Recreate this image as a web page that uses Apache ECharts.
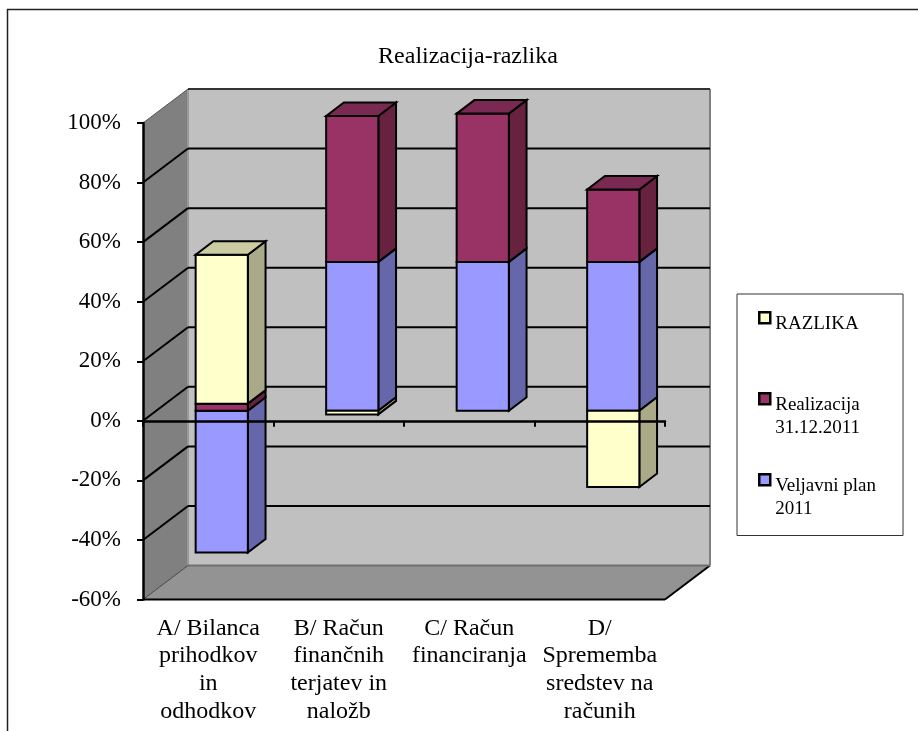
<!DOCTYPE html>
<html>
<head>
<meta charset="utf-8">
<style>
  html, body { margin: 0; padding: 0; background: #fff; }
  #chart { width: 918px; height: 731px; }
</style>
<script src="https://cdn.jsdelivr.net/npm/echarts@6/dist/echarts.min.js"></script>
</head>
<body>
<div id="chart"></div>
<script>
const categories = ['A/ Bilanca\nprihodkov\nin\nodhodkov', 'B/ Račun\nfinančnih\nterjatev in\nnaložb', 'C/ Račun\nfinanciranja', 'D/\nSprememba\nsredstev na\nračunih'];
const planValues = [-47.6, 50, 50, 50];
const realizacijaValues = [2.4, 49, 49.8, 24.3];
const razlikaValues = [50, -1.2, 0, -25.6];
const yTicks = [-60, -40, -20, 0, 20, 40, 60, 80, 100];

const PLAN = 'Veljavni plan\n2011';
const REAL = 'Realizacija\n31.12.2011';
const RAZ = 'RAZLIKA';
const FONT = '"Liberation Serif", "Times New Roman", serif';

// globina 3D prikaza v pikslih
const WALL_X = 45, WALL_Y = 34;
const BAR_X = 13.5, BAR_Y = 10;
const SIDE_X = 17.7, SIDE_Y = 13.5;

const colors = {
  plan: { front: '#9999FF', side: '#6666AA', top: '#7A7ACC' },
  real: { front: '#993366', side: '#66223F', top: '#7A2952' },
  raz: { front: '#FFFFCC', side: '#AAAA88', top: '#CCCCA3' }
};

// kopiči vrednosti kot pri zloženih stolpcih, pozitivne in negativne posebej
function stackValues (lists) {
  const pos = categories.map(() => 0);
  const neg = categories.map(() => 0);
  return lists.map(list => list.map((v, i) => {
    const sum = v >= 0 ? pos : neg;
    const from = sum[i];
    sum[i] += v;
    return [i, from, sum[i]];
  }));
}

const stacked = stackValues([planValues, realizacijaValues, razlikaValues]);
// najvišja točka vsakega stolpca dobi zgornjo ploskev
const barTops = categories.map((c, i) => Math.max(...stacked.map(s => Math.max(s[i][1], s[i][2]))));

function poly (points, fill, stroke, lineWidth) {
  return {
    type: 'polygon',
    shape: { points },
    style: { fill, stroke: stroke || 'none', lineWidth: lineWidth || 0, lineJoin: 'miter' }
  };
}

function line (x1, y1, x2, y2, stroke, lineWidth) {
  return {
    type: 'line',
    shape: { x1, y1, x2, y2 },
    style: { stroke, lineWidth, fill: 'none' }
  };
}

function renderWalls (params, api) {
  const cs = params.coordSys;
  const x0 = cs.x, x1 = cs.x + cs.width;
  const yt = cs.y, yb = cs.y + cs.height;
  return {
    type: 'group',
    children: [
      // zadnja stena
      poly([[x0 + WALL_X, yt - WALL_Y], [x1 + WALL_X, yt - WALL_Y], [x1 + WALL_X, yb - WALL_Y], [x0 + WALL_X, yb - WALL_Y]], '#C0C0C0'),
      // leva stena
      poly([[x0, yt], [x0 + WALL_X, yt - WALL_Y], [x0 + WALL_X, yb - WALL_Y], [x0, yb]], '#808080'),
      // tla
      poly([[x0, yb], [x0 + WALL_X, yb - WALL_Y], [x1 + WALL_X, yb - WALL_Y], [x1, yb]], '#939393'),
      line(x0 + WALL_X, yt - WALL_Y, x0 + WALL_X, yb - WALL_Y, '#999999', 2),
      line(x1 + WALL_X, yt - WALL_Y, x1 + WALL_X, yb - WALL_Y, '#808080', 2),
      line(x0, yb, x0 + WALL_X, yb - WALL_Y, '#444444', 1),
      line(x1, yb, x1 + WALL_X, yb - WALL_Y, '#000000', 2),
      line(x0, yb, x1, yb, '#000000', 2)
    ]
  };
}

function renderGridLine (params, api) {
  const cs = params.coordSys;
  const v = api.value(0);
  const y = api.coord([0, v])[1];
  const x0 = cs.x, x1 = cs.x + cs.width;
  if (v === yTicks[0]) {
    return line(x0 + WALL_X, y - WALL_Y, x1 + WALL_X, y - WALL_Y, '#707070', 2);
  }
  const isTop = v === yTicks[yTicks.length - 1];
  return {
    type: 'group',
    children: [
      line(x0, y, x0 + WALL_X, y - WALL_Y, isTop ? '#555555' : '#000000', isTop ? 1 : 2),
      line(x0 + WALL_X, y - WALL_Y, x1 + WALL_X, y - WALL_Y, isTop ? '#333333' : '#000000', 2)
    ]
  };
}

function barRenderer (palette) {
  return function (params, api) {
    const idx = api.value(0), from = api.value(1), to = api.value(2);
    if (from === to) return null;
    const width = api.size([1, 0])[0] * 0.4;
    const cx = api.coord([idx, 0])[0] + BAR_X;
    const upper = api.coord([idx, Math.max(from, to)])[1] - BAR_Y;
    const lower = api.coord([idx, Math.min(from, to)])[1] - BAR_Y;
    const l = cx - width / 2, r = cx + width / 2;
    const children = [
      poly([[r, upper], [r + SIDE_X, upper - SIDE_Y], [r + SIDE_X, lower - SIDE_Y], [r, lower]], palette.side, '#000', 2),
      poly([[l, upper], [r, upper], [r, lower], [l, lower]], palette.front, '#000', 2)
    ];
    if (Math.max(from, to) === barTops[idx]) {
      children.push(poly([[l, upper], [l + SIDE_X, upper - SIDE_Y], [r + SIDE_X, upper - SIDE_Y], [r, upper]], palette.top, '#000', 2));
    }
    return { type: 'group', children };
  };
}

function barSeries (name, data, palette) {
  return {
    name,
    type: 'custom',
    data,
    encode: { x: 0, y: [1, 2] },
    itemStyle: { color: palette.front },
    z: 3,
    renderItem: barRenderer(palette)
  };
}

const option = {
  animation: false,
  backgroundColor: '#fff',
  title: {
    text: 'Realizacija-razlika',
    left: 463,
    top: 40,
    textAlign: 'center',
    textStyle: { fontFamily: FONT, fontWeight: 'normal', fontSize: 24, color: '#000' }
  },
  graphic: [{
    type: 'rect',
    shape: { x: 7.5, y: 9.5, width: 960, height: 780 },
    style: { fill: 'none', stroke: '#222', lineWidth: 1.5 },
    silent: true
  }],
  grid: { left: 143, right: 253, top: 123, bottom: 131.5, containLabel: false },
  legend: {
    left: 737,
    top: 294,
    orient: 'vertical',
    data: [RAZ, REAL, PLAN],
    padding: [17, 27, 14, 21],
    itemGap: 32.5,
    itemWidth: 11,
    itemHeight: 46,
    icon: 'path://M0,0H11V11H0Z M0,46L0,46',
    borderColor: '#333',
    borderWidth: 1,
    selectedMode: false,
    formatter: name => name.includes('\n') ? name : name + '\n ',
    itemStyle: { borderColor: '#000', borderWidth: 2.5 },
    textStyle: { fontFamily: FONT, fontSize: 19, lineHeight: 23, color: '#000' }
  },
  xAxis: [
    {
      type: 'category',
      data: categories,
      position: 'bottom',
      axisLine: { show: false, onZero: false },
      axisTick: { show: false },
      axisLabel: {
        interval: 0,
        margin: 15,
        fontFamily: FONT,
        fontSize: 24,
        lineHeight: 27.7,
        color: '#000'
      }
    },
    {
      type: 'category',
      data: categories,
      position: 'bottom',
      z: 6,
      axisLine: { show: true, onZero: true, lineStyle: { color: '#000', width: 2.5 } },
      axisTick: { show: true, length: 6, lineStyle: { color: '#000', width: 2 } },
      axisLabel: { show: false }
    }
  ],
  yAxis: {
    type: 'value',
    min: -60,
    max: 100,
    interval: 20,
    z: 6,
    axisLine: { show: true, onZero: false, lineStyle: { color: '#000', width: 2.5 } },
    axisTick: { show: true, length: 6, lineStyle: { color: '#000', width: 2 } },
    splitLine: { show: false },
    axisLabel: {
      formatter: '{value}%',
      margin: 22,
      fontFamily: FONT,
      fontSize: 23,
      color: '#000'
    }
  },
  series: [
    { type: 'custom', data: [[0]], renderItem: renderWalls, silent: true, z: 1 },
    { type: 'custom', data: yTicks.map(v => [v]), renderItem: renderGridLine, encode: { y: 0 }, silent: true, z: 2 },
    barSeries(PLAN, stacked[0], colors.plan),
    barSeries(REAL, stacked[1], colors.real),
    barSeries(RAZ, stacked[2], colors.raz)
  ]
};

const charts = echarts.init(document.getElementById('chart'));
charts.setOption(option);
</script>
</body>
</html>
